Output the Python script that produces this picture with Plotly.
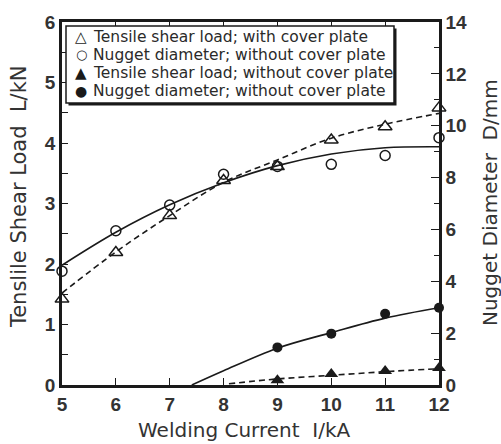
import plotly.graph_objects as go

# ---- data ----
current = [5, 6, 7, 8, 9, 10, 11, 12]

# Tensile shear load with cover plate (open triangles, L/kN, left axis)
load_cover = [1.42, 2.19, 2.80, 3.38, 3.61, 4.05, 4.27, 4.58]
load_cover_fit = [1.52, 2.20, 2.80, 3.35, 3.72, 4.08, 4.31, 4.49]

# Nugget diameter (open circles, D/mm, right axis)
nugget_cover = [4.39, 5.95, 6.94, 8.13, 8.43, 8.51, 8.85, 9.54]
nugget_cover_fit = [4.62, 5.89, 6.95, 7.80, 8.46, 8.91, 9.15, 9.19]

# Without cover plate
current_nc = [9, 10, 11, 12]
load_nocover = [0.08, 0.18, 0.23, 0.28]
nugget_nocover = [1.45, 1.98, 2.75, 2.98]

fit_nugget_nc_x = [7.41, 8, 9, 10, 11, 12]
fit_nugget_nc_y = [0.0, 0.55, 1.42, 2.02, 2.58, 2.98]
fit_load_nc_x = [8.1, 9, 10, 11, 12]
fit_load_nc_y = [0.02, 0.10, 0.16, 0.22, 0.27]

legend_names = [
    "Tensile shear load; with cover plate",
    "Nugget diameter; without cover plate",
    "Tensile shear load; without cover plate",
    "Nugget diameter; without cover plate",
]
legend_glyphs = ["\u25B3", "\u25CB", "\u25B2", "\u25CF"]

x_title = "Welding Current  I/kA"
y_title = "Tenslile Shear Load  L/kN"
y2_title = "Nugget Diameter  D/mm"

INK = "#1a1a1a"
TXT = "#2a2a2a"
fig = go.Figure()

# fitted curves
fig.add_trace(go.Scatter(x=current, y=load_cover_fit, mode="lines", line=dict(color=INK, width=1.6, dash="6px,4px", shape="spline"), showlegend=False, hoverinfo="skip"))
fig.add_trace(go.Scatter(x=current, y=nugget_cover_fit, yaxis="y2", mode="lines", line=dict(color=INK, width=1.6, shape="spline"), showlegend=False, hoverinfo="skip"))
fig.add_trace(go.Scatter(x=fit_load_nc_x, y=fit_load_nc_y, mode="lines", line=dict(color=INK, width=1.6, dash="6px,4px", shape="spline"), showlegend=False, hoverinfo="skip"))
fig.add_trace(go.Scatter(x=fit_nugget_nc_x, y=fit_nugget_nc_y, yaxis="y2", mode="lines", line=dict(color=INK, width=1.6, shape="spline"), showlegend=False, hoverinfo="skip"))

# markers
fig.add_trace(go.Scatter(x=current, y=load_cover, mode="markers", name=legend_names[0], showlegend=False,
                         marker=dict(symbol="triangle-up-open", size=12, color=INK, line=dict(width=1.5)), cliponaxis=False))
fig.add_trace(go.Scatter(x=current, y=nugget_cover, yaxis="y2", mode="markers", name=legend_names[1], showlegend=False,
                         marker=dict(symbol="circle-open", size=10, color=INK, line=dict(width=1.5)), cliponaxis=False))
fig.add_trace(go.Scatter(x=current_nc, y=load_nocover, mode="markers", name=legend_names[2], showlegend=False,
                         marker=dict(symbol="triangle-up", size=12, color=INK), cliponaxis=False))
fig.add_trace(go.Scatter(x=current_nc, y=nugget_nocover, yaxis="y2", mode="markers", name=legend_names[3], showlegend=False,
                         marker=dict(symbol="circle", size=10, color=INK), cliponaxis=False))

tickfont = dict(family="Liberation Sans", size=19, color="#333", weight="bold")

# ---- pixel helpers for the plot frame ----
PLOT_L, PLOT_R, PLOT_T, PLOT_B = 62, 439, 18, 385
def px_x(p):
    return (p - PLOT_L) / (PLOT_R - PLOT_L)
def px_y(p):
    return (PLOT_B - p) / (PLOT_B - PLOT_T)

# ---- legend box (drawn, with a drop shadow like the original) ----
box = dict(x0=66, x1=394, y0=22, y1=100)
shapes = [
    dict(type="rect", xref="paper", yref="paper", layer="above",
         x0=px_x(box["x0"] + 2.5), x1=px_x(box["x1"] + 2.5),
         y0=px_y(box["y1"] + 2.5), y1=px_y(box["y0"] + 2.5),
         fillcolor=INK, line=dict(width=0)),
    dict(type="rect", xref="paper", yref="paper", layer="above",
         x0=px_x(box["x0"]), x1=px_x(box["x1"]),
         y0=px_y(box["y1"]), y1=px_y(box["y0"]),
         fillcolor="white", line=dict(color=INK, width=1.5)),
]
annotations = []
row_y = [33, 51.3, 69.7, 88]
glyph_size = [15, 13, 15, 14]
for i, name in enumerate(legend_names):
    annotations.append(dict(xref="paper", yref="paper", x=px_x(81), y=px_y(row_y[i]),
                            text=legend_glyphs[i], showarrow=False, xanchor="center", yanchor="middle",
                            font=dict(family="DejaVu Sans", size=glyph_size[i], color=INK)))
    annotations.append(dict(xref="paper", yref="paper", x=px_x(91), y=px_y(row_y[i]),
                            text=name, showarrow=False, xanchor="left", yanchor="middle",
                            font=dict(family="DejaVu Sans", size=15.5, color=TXT)))

# ---- axis titles ----
annotations.append(dict(xref="paper", yref="paper", x=px_x(244), y=px_y(431), text=x_title,
                        showarrow=False, xanchor="center", yanchor="middle",
                        font=dict(family="DejaVu Sans", size=20, color="#333")))
annotations.append(dict(xref="paper", yref="paper", x=px_x(19), y=px_y(195), text=y_title, textangle=-90,
                        showarrow=False, xanchor="center", yanchor="middle",
                        font=dict(family="DejaVu Sans", size=21, color="#333")))
annotations.append(dict(xref="paper", yref="paper", x=px_x(490), y=px_y(200), text=y2_title, textangle=-90,
                        showarrow=False, xanchor="center", yanchor="middle",
                        font=dict(family="DejaVu Sans", size=20, color="#333")))

fig.update_layout(
    width=501, height=444,
    margin=dict(l=62, r=62, t=18, b=59),
    paper_bgcolor="white", plot_bgcolor="white",
    showlegend=False,
    shapes=shapes, annotations=annotations,
    xaxis=dict(range=[5, 12], dtick=1, showgrid=False, zeroline=False,
               showline=True, linecolor=INK, linewidth=2.5, mirror="ticks",
               ticks="inside", ticklen=7, tickwidth=1.2, tickcolor=INK,
               tickfont=tickfont),
    yaxis=dict(range=[0, 6], dtick=1, showgrid=False, zeroline=False,
               showline=True, linecolor=INK, linewidth=2.5,
               ticks="inside", ticklen=6, tickwidth=1.2, tickcolor=INK,
               minor=dict(dtick=0.5, ticks="inside", ticklen=6, tickwidth=1.2, tickcolor=INK, showgrid=False),
               tickfont=tickfont),
    yaxis2=dict(range=[0, 14], dtick=2, overlaying="y", side="right",
                showgrid=False, zeroline=False,
                showline=True, linecolor=INK, linewidth=2.5,
                ticks="inside", ticklen=8, tickwidth=1.2, tickcolor=INK,
                minor=dict(dtick=1, ticks="inside", ticklen=5, tickwidth=1.2, tickcolor=INK, showgrid=False),
                tickfont=tickfont),
)

fig.write_html("out.html")
